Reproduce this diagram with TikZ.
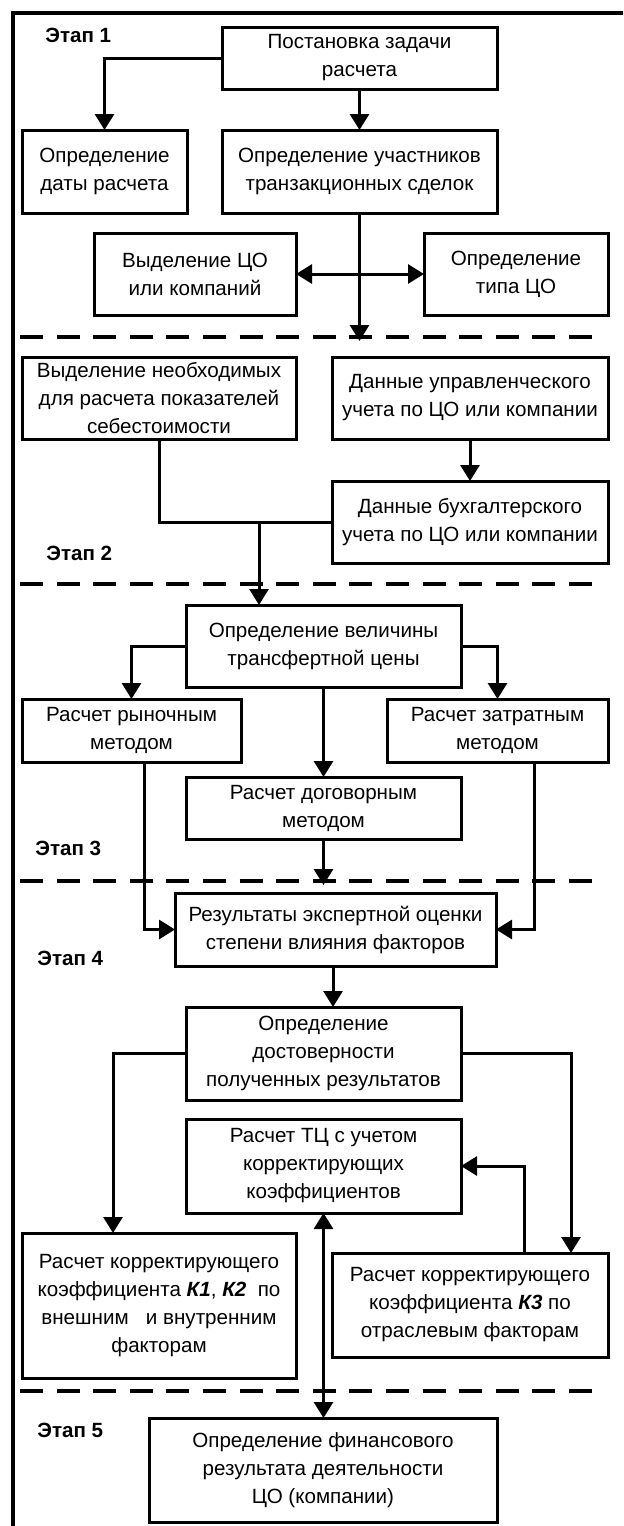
\documentclass[tikz,border=0pt]{standalone}
\usepackage{fontspec}
\setmainfont{Liberation Sans}
\usetikzlibrary{arrows.meta}
\newcommand\mybox[6]{%
  \node[stepbox, minimum width={(#4-#2)*0.5pt}, minimum height={(#5-#3)*0.5pt}] (#1) at ({(#2+#4)/2},{(#3+#5)/2}) {#6};}
\tikzset{
  stepbox/.style={draw, line width=1.5pt, inner sep=0pt, outer sep=0pt, align=center,
    font=\fontsize{10.3pt}{14pt}\selectfont},
  stage/.style={anchor=west, inner sep=0pt, font=\fontsize{10.3pt}{14pt}\selectfont\bfseries},
  conn/.style={line width=1.5pt},
  arr/.style={conn, -{Triangle[length=8pt,width=9.5pt]}},
  dbl/.style={conn, {Triangle[length=8pt,width=9.5pt]}-{Triangle[length=8pt,width=9.5pt]}},
  sep/.style={line width=2pt, dash pattern=on 11.5pt off 6.8pt},
  frame/.style={line width=2pt}
}
\begin{document}
\begin{tikzpicture}[x=0.5pt,y=-0.5pt]
\useasboundingbox (0,0) rectangle (623,1526);
\fill[white] (0,0) rectangle (623,1526);
% frame
\draw[frame] (13,1526) -- (13,13) -- (623,13);
% separators
\draw[sep] (20,337) -- (593,337);
\draw[sep] (20,584) -- (593,584);
\draw[sep] (20,881) -- (593,881);
\draw[sep] (20,1391) -- (593,1391);
% stage labels
\node[stage] (s1) at (45,35) {Этап 1};
\node[stage] (s2) at (46,553) {Этап 2};
\node[stage] (s3) at (35,848) {Этап 3};
\node[stage] (s4) at (37,958) {Этап 4};
\node[stage] (s5) at (37,1430) {Этап 5};
% boxes
\mybox{A}{222}{27}{497}{89}{Постановка задачи\\расчета}
\mybox{B}{22}{130}{187}{213}{Определение\\даты расчета}
\mybox{C}{222}{130}{497}{213}{Определение участников\\транзакционных сделок}
\mybox{D}{94}{233}{296}{315}{Выделение ЦО\\или компаний}
\mybox{E}{424}{233}{608}{315}{Определение\\типа ЦО}
\mybox{F}{22}{357}{296}{439}{Выделение необходимых\\для расчета показателей\\себестоимости}
\mybox{G}{332}{357}{608}{439}{Данные управленческого\\учета по ЦО или компании}
\mybox{H}{332}{481}{608}{563}{Данные бухгалтерского\\учета по ЦО или компании}
\mybox{I}{186}{605}{461}{687}{Определение величины\\трансфертной цены}
\mybox{J}{22}{699}{241}{762}{Расчет рыночным\\методом}
\mybox{K}{387}{699}{608}{762}{Расчет затратным\\методом}
\mybox{L}{186}{777}{461}{839}{Расчет договорным\\методом}
\mybox{M}{175}{893}{496}{966}{Результаты экспертной оценки\\степени влияния факторов}
\mybox{N}{186}{1007}{461}{1100}{Определение\\достоверности\\полученных результатов}
\mybox{O}{186}{1119}{461}{1213}{Расчет ТЦ с учетом\\корректирующих\\коэффициентов}
\mybox{P}{22}{1233}{296}{1378}{Расчет корректирующего\\коэффициента \textbf{\textit{К1}}, \textbf{\textit{К2}}\ \ по\\внешним\ \ \ и внутренним\\факторам}
\mybox{Q}{332}{1253}{608}{1357}{Расчет корректирующего\\коэффициента \textbf{\textit{К3}} по\\отраслевым факторам}
\mybox{R}{149}{1418}{497}{1522}{Определение финансового\\результата деятельности\\ЦО (компании)}
% helper coordinates
\coordinate (d1) at (0,341);
\coordinate (d3) at (0,885);
\path ([xshift=-32.25pt]I.north) coordinate (itop);
% connectors
\draw[arr] (A.west) -| (B.north);
\draw[arr] (A.south) -- (C.north);
\draw[arr] (C.south) -- (C.south |- d1);
\draw[dbl] (D.east) -- (E.west);
\draw[arr] (G.south) -- (H.north);
\draw[conn] (F.south) |- (H.west);
\draw[arr] (itop |- H.west) -- (itop);
\draw[arr] (I.west) -| (J.north);
\draw[arr] (I.east) -| (K.north);
\draw[arr] (I.south) -- (L.north);
\draw[arr] (L.south) -- (L.south |- d3);
\draw[arr] ([xshift=6.25pt]J.south) |- (M.west);
\draw[arr] ([xshift=18.25pt]K.south) |- (M.east);
\draw[arr] ([xshift=-1.25pt]M.south) -- ([xshift=-1.25pt]M.south |- N.north);
\draw[arr] (N.west) -| ([xshift=-23pt]P.north);
\draw[arr] (N.east) -| ([xshift=50.5pt]Q.north);
\draw[arr] ([xshift=27pt]Q.north) |- (O.east);
\draw[dbl] (O.south) -- (O.south |- R.north);
\end{tikzpicture}
\end{document}
